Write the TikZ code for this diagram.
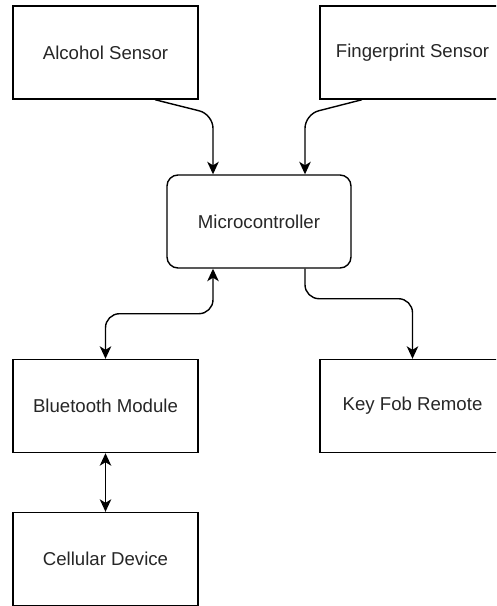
\documentclass[tikz,border=0pt]{standalone}
\usepackage{fontspec}
\setmainfont{Liberation Sans}
\usetikzlibrary{arrows.meta,positioning}

\begin{document}
\begin{tikzpicture}[
    block/.style={rectangle, draw, line width=0.8pt, minimum width=3.7cm, minimum height=1.86cm,
        font=\fontsize{10.6}{12}\selectfont, text=black!85},
    mcubox/.style={block, rounded corners=0.22cm, minimum width=3.68cm},
    arrow/.style={-{Stealth[length=2.5mm, width=2.3mm, inset=0.7mm]}, line width=0.8pt, rounded corners=0.28cm},
    biarrow/.style={arrow, {Stealth[length=2.5mm, width=2.3mm, inset=0.7mm]}-{Stealth[length=2.5mm, width=2.3mm, inset=0.7mm]}}
]
\useasboundingbox (0,0) rectangle (9.92,-12.12);
\clip (0,0) rectangle (9.92,-12.12);

% Sensors
\node[block] (alcohol) at (2.11,-1.05) {Alcohol Sensor};
\node[block] (finger) at (8.25,-1.05) {Fingerprint Sensor};

% Controller
\node[mcubox] (mcu) at (5.18,-4.43) {Microcontroller};

% Outputs
\node[block] (bt) at (2.11,-8.12) {Bluetooth Module};
\node[block] (keyfob) at (8.25,-8.12) {Key Fob Remote};
\node[block] (cell) at (2.11,-11.18) {Cellular Device};

% Connections
\draw[arrow] ([xshift=0.99cm]alcohol.south) -- ([xshift=-0.92cm, yshift=1.2cm]mcu.north) -- ([xshift=-0.92cm]mcu.north);
\draw[arrow] ([xshift=-1.01cm]finger.south) -- ([xshift=0.92cm, yshift=1.2cm]mcu.north) -- ([xshift=0.92cm]mcu.north);
\draw[biarrow] ([xshift=-0.92cm]mcu.south) -- ++(0,-0.9) -| (bt.north);
\draw[arrow] ([xshift=0.92cm]mcu.south) -- ++(0,-0.6) -| (keyfob.north);
\draw[biarrow] (bt) -- (cell);

\end{tikzpicture}
\end{document}
